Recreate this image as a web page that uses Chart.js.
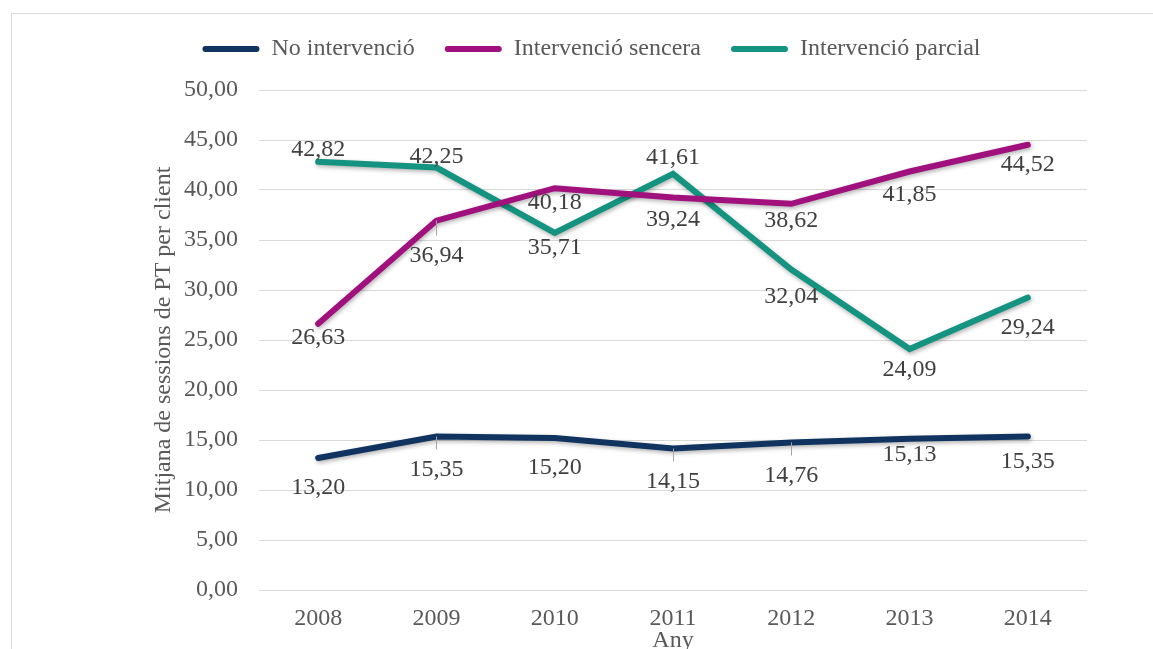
<!DOCTYPE html>
<html>
<head>
<meta charset="utf-8">
<title>Mitjana de sessions de PT per client</title>
<script src="https://cdn.jsdelivr.net/npm/chart.js@4/dist/chart.umd.min.js"></script>
<style>
  html, body { margin: 0; padding: 0; background: #fff; }
  body { width: 1153px; height: 649px; overflow: hidden; position: relative; }
  #frame { position: absolute; left: 11px; top: 13px; width: 1200px; height: 700px; border: 1px solid #d9d9d9; }
  #chart-box { position: absolute; left: 0; top: 0; width: 1153px; height: 700px; }
</style>
</head>
<body>
<div id="frame"></div>
<div id="chart-box"><canvas id="sessions-chart"></canvas></div>
<script>
// Categories
var years = ['2008', '2009', '2010', '2011', '2012', '2013', '2014'];

// Series values (mitjana de sessions per client)
var noIntervencio      = [13.20, 15.35, 15.20, 14.15, 14.76, 15.13, 15.35];
var intervencioSencera = [26.63, 36.94, 40.18, 39.24, 38.62, 41.85, 44.52];
var intervencioParcial = [42.82, 42.25, 35.71, 41.61, 32.04, 24.09, 29.24];

// Series names
var seriesNames = ['No intervenció', 'Intervenció sencera', 'Intervenció parcial'];

// Y axis tick values
var yTicks = [0, 5, 10, 15, 20, 25, 30, 35, 40, 45, 50];

var fontFamily = '"Liberation Serif", "Times New Roman", serif';

// Catalan number format: 2 decimals, comma separator
function formatValue(v) {
  return v.toFixed(2).replace('.', ',');
}

// Extra room under the legend
var legendSpacing = {
  id: 'legendSpacing',
  beforeInit: function(chart) {
    var originalFit = chart.legend.fit;
    chart.legend.fit = function() {
      originalFit.bind(chart.legend)();
      this.height += 19;
    };
  }
};

// Draws the value labels under / over every point, with a small leader line when pushed away
var valueLabels = {
  id: 'valueLabels',
  afterDatasetsDraw: function(chart) {
    var ctx = chart.ctx;
    ctx.save();
    ctx.font = '24px ' + fontFamily;
    ctx.fillStyle = '#404040';
    ctx.textAlign = 'center';
    ctx.textBaseline = 'middle';
    chart.data.datasets.forEach(function(dataset, di) {
      var meta = chart.getDatasetMeta(di);
      meta.data.forEach(function(point, i) {
        var off = dataset.labelOffsets[i];
        if (off > 31) {
          ctx.strokeStyle = '#a6a6a6';
          ctx.lineWidth = 1;
          ctx.beginPath();
          ctx.moveTo(Math.round(point.x) + 0.5, point.y);
          ctx.lineTo(Math.round(point.x) + 0.5, point.y + off - 20);
          ctx.stroke();
        }
        ctx.fillText(formatValue(dataset.data[i]), point.x, point.y + off);
      });
    });
    ctx.restore();
  }
};

// Soft drop shadow under the lines
var lineShadow = {
  id: 'lineShadow',
  beforeDatasetDraw: function(chart) {
    var ctx = chart.ctx;
    ctx.save();
    ctx.shadowColor = 'rgba(0, 0, 0, 0.3)';
    ctx.shadowBlur = 4;
    ctx.shadowOffsetX = 1;
    ctx.shadowOffsetY = 2;
  },
  afterDatasetDraw: function(chart) {
    chart.ctx.restore();
  }
};

function makeDataset(label, values, color, offsets) {
  return {
    label: label,
    data: values,
    borderColor: color,
    backgroundColor: color,
    borderWidth: 6,
    borderCapStyle: 'round',
    borderJoinStyle: 'miter',
    pointRadius: 0,
    pointHoverRadius: 0,
    tension: 0,
    fill: false,
    labelOffsets: offsets
  };
}

var sessionsChart = new Chart(document.getElementById('sessions-chart'), {
  type: 'line',
  data: {
    labels: years,
    datasets: [
      makeDataset(seriesNames[0], noIntervencio, '#10335f', [30, 33, 30, 33, 33, 16, 25]),
      makeDataset(seriesNames[1], intervencioSencera, '#a1117e', [14, 35, 15, 22, 17, 23, 20]),
      makeDataset(seriesNames[2], intervencioParcial, '#149480', [-12, -11, 15, -16, 27, 21, 30])
    ]
  },
  options: {
    responsive: true,
    maintainAspectRatio: false,
    animation: false,
    layout: {
      padding: { left: 96, right: 66, top: 7, bottom: 45 }
    },
    plugins: {
      tooltip: { enabled: false },
      legend: {
        position: 'top',
        align: 'center',
        labels: {
          color: '#595959',
          font: { family: fontFamily, size: 24 },
          boxWidth: 57,
          boxHeight: 6,
          padding: 30,
          useBorderRadius: true,
          borderRadius: 3,
          generateLabels: function(chart) {
            var items = Chart.defaults.plugins.legend.labels.generateLabels(chart);
            items.forEach(function(item) {
              item.lineWidth = 0;
              item.strokeStyle = 'rgba(0,0,0,0)';
            });
            return items;
          }
        }
      }
    },
    scales: {
      x: {
        offset: true,
        grid: { display: false, drawTicks: false },
        border: { display: false },
        ticks: {
          color: '#595959',
          font: { family: fontFamily, size: 24 },
          padding: 14,
          maxRotation: 0
        },
        title: {
          display: true,
          text: 'Any',
          color: '#595959',
          font: { family: fontFamily, size: 24 },
          padding: 0
        },
        afterFit: function(scale) {
          scale.height = 65;
        }
      },
      y: {
        min: 0,
        max: 50,
        grid: { color: '#d9d9d9', lineWidth: 1, drawTicks: false },
        border: { display: false },
        afterBuildTicks: function(scale) {
          scale.ticks = yTicks.map(function(v) { return { value: v }; });
        },
        ticks: {
          color: '#595959',
          font: { family: fontFamily, size: 24 },
          padding: 21,
          callback: function(value) { return formatValue(value); }
        },
        title: {
          display: true,
          text: 'Mitjana de sessions de PT per client',
          color: '#595959',
          font: { family: fontFamily, size: 24 },
          padding: { top: 53, bottom: 0 }
        },
        afterFit: function(scale) {
          scale.width = 163;
        }
      }
    }
  },
  plugins: [legendSpacing, lineShadow, valueLabels]
});
</script>
</body>
</html>
